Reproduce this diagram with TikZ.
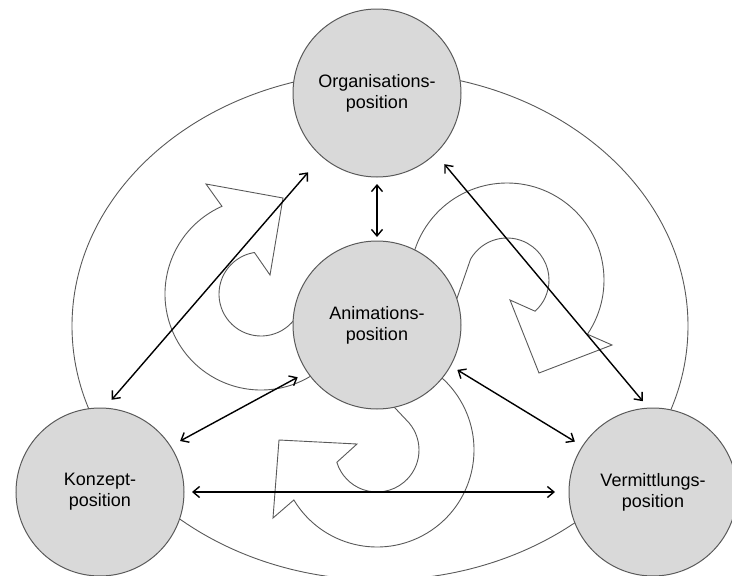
\documentclass[tikz,border=0pt]{standalone}
\usepackage{fontspec}
\setmainfont{Liberation Sans}
\usetikzlibrary{arrows.meta}
\definecolor{posfill}{HTML}{D9D9D9}
\definecolor{posline}{HTML}{5A5A5A}
\definecolor{swirlgray}{HTML}{595959}
\tikzstyle{position} = [circle, draw=posline, fill=posfill, line width=1pt, minimum size=168pt, inner sep=0pt, outer sep=0pt, align=center, font=\fontsize{18}{21}\selectfont]
\tikzstyle{link} = [line width=1.4pt, <->, >={Straight Barb[length=6.5pt,width=11pt]}]
\tikzstyle{swirl} = [draw=swirlgray, line width=0.9pt]

\begin{document}
\begin{tikzpicture}[x=1pt, y=-1pt]
    \useasboundingbox (0,0) rectangle (732,576);
    \clip (0,0) rectangle (732,576);

    % Outer ellipse
    \draw[swirl] (380,326) ellipse [x radius=308, y radius=254];

    % Centres of the curved arrows
    \coordinate (swirlL) at (261,294);
    \coordinate (swirlR) at (507,280);
    \coordinate (swirlB) at (377,450);

    % Left curved arrow
    \draw[swirl] ([shift={(15:42)}]swirlL) arc[start angle=15, end angle=261, radius=42]
        -- (270,275) -- (283,198) -- (206,184)
        -- ([shift={(246:96)}]swirlL) arc[start angle=246, end angle=30, radius=96] -- cycle;

    % Right curved arrow
    \draw[swirl] (447,327) -- ([shift={(-150:42)}]swirlR) arc[start angle=-150, end angle=48, radius=42]
        -- (510,300) -- (539,373) -- (612,345)
        -- ([shift={(34:97)}]swirlR) arc[start angle=34, end angle=-175, radius=97] -- cycle;

    % Bottom curved arrow
    \draw[swirl] (379,391) -- ([shift={(-40:42)}]swirlB) arc[start angle=-40, end angle=163, radius=42]
        -- (357,444) -- (279,440) -- (273,518)
        -- ([shift={(149:97)}]swirlB) arc[start angle=149, end angle=-60, radius=97] -- cycle;

    % Positions
    \node[position] (orga) at (377,93) {Organisations-\\position};
    \node[position] (anim) at (377,325) {Animations-\\position};
    \node[position] (konz) at (100,492) {Konzept-\\position};
    \node[position] (verm) at (653,492) {Vermittlungs-\\position};

    % Double arrows between the positions
    \draw[link, shorten <=11pt, shorten >=21pt] (konz.87) -- (orga.229);
    \draw[link, shorten <=7pt, shorten >=4pt] (orga.south) -- (anim.north);
    \draw[link, shorten <=14pt, shorten >=9pt] (orga.314) -- (verm.93);
    \draw[link, shorten <=11pt, shorten >=11pt] (anim.214) -- (konz.33);
    \draw[link, shorten <=8pt, shorten >=9pt] (anim.331) -- (verm.147);
    \draw[link, shorten <=8pt, shorten >=14pt] (konz.east) -- (verm.west);

\end{tikzpicture}
\end{document}
